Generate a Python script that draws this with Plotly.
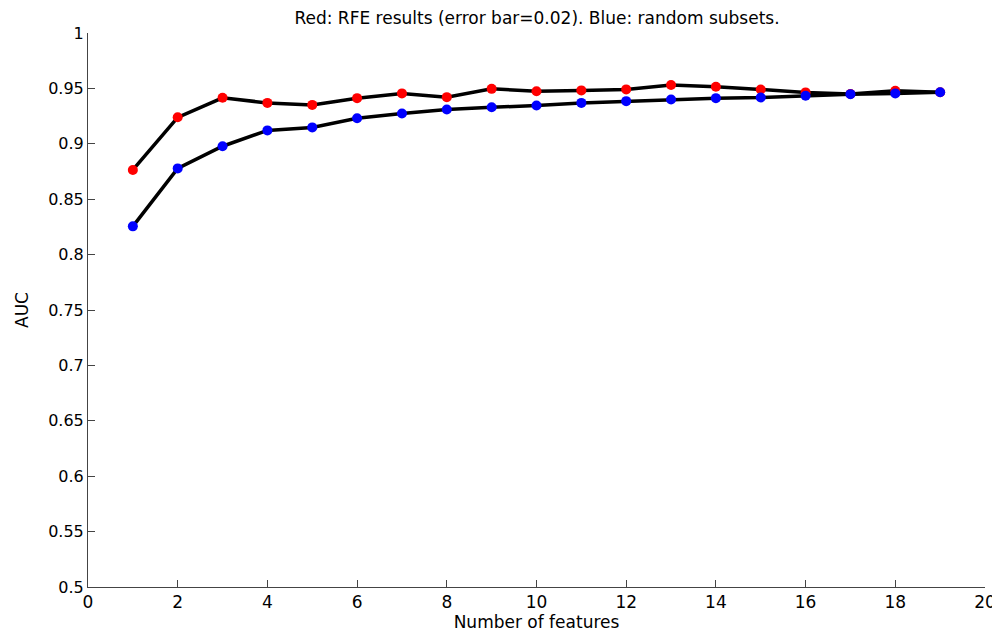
import plotly.graph_objects as go

n_features = list(range(1, 20))
rfe_auc = [0.8764, 0.9239, 0.9415, 0.9369, 0.9351, 0.9412, 0.9455, 0.9421, 0.9496, 0.9474,
           0.9482, 0.9491, 0.9530, 0.9515, 0.9490, 0.9464, 0.9450, 0.9478, 0.9466]
random_auc = [0.8255, 0.8778, 0.8978, 0.9121, 0.9148, 0.9230, 0.9273, 0.9309, 0.9330, 0.9345,
              0.9369, 0.9385, 0.9400, 0.9412, 0.9418, 0.9433, 0.9448, 0.9455, 0.9466]
x_ticks = list(range(0, 21, 2))
y_ticks = [0.5, 0.55, 0.6, 0.65, 0.7, 0.75, 0.8, 0.85, 0.9, 0.95, 1.0]
y_labels = ["0.5", "0.55", "0.6", "0.65", "0.7", "0.75", "0.8", "0.85", "0.9", "0.95", "1"]

fig = go.Figure()
fig.add_trace(go.Scatter(x=n_features, y=rfe_auc, mode="lines+markers",
                         line=dict(color="black", width=3.5),
                         marker=dict(color="#ff0000", size=10, line=dict(width=0)),
                         name="RFE"))
fig.add_trace(go.Scatter(x=n_features, y=random_auc, mode="lines+markers",
                         line=dict(color="black", width=3.5),
                         marker=dict(color="#0000ff", size=10, line=dict(width=0)),
                         name="Random"))

font = "DejaVu Sans, Verdana, sans-serif"
# the page body adds an 8px offset, so margins are shifted to compensate
fig.update_layout(
    width=1000, height=632,
    margin=dict(l=80, r=21, t=25, b=51),
    paper_bgcolor="white", plot_bgcolor="white",
    showlegend=False,
    font=dict(family=font, size=16, color="black"),
    title=dict(text="Red: RFE results (error bar=0.02). Blue: random subsets.",
               x=529 / 1000, xanchor="center", y=1 - 10 / 632, yanchor="middle",
               font=dict(family=font, size=17, color="black")),
)
fig.update_xaxes(range=[0, 20], tickvals=x_ticks, ticks="inside", ticklen=7,
                 tickcolor="#444", showline=True, linecolor="#444", linewidth=1,
                 showgrid=False, zeroline=False,
                 title=dict(text="Number of features", standoff=4, font=dict(size=17)),
                 tickfont=dict(size=17))
fig.update_yaxes(range=[0.5, 1.0], tickvals=y_ticks, ticktext=y_labels, ticks="inside",
                 ticklen=7, tickcolor="#444", showline=True, linecolor="#444", linewidth=1,
                 showgrid=False, zeroline=False,
                 title=dict(text="AUC", standoff=15, font=dict(size=17)),
                 tickfont=dict(size=16))

fig.write_html("out.html")
